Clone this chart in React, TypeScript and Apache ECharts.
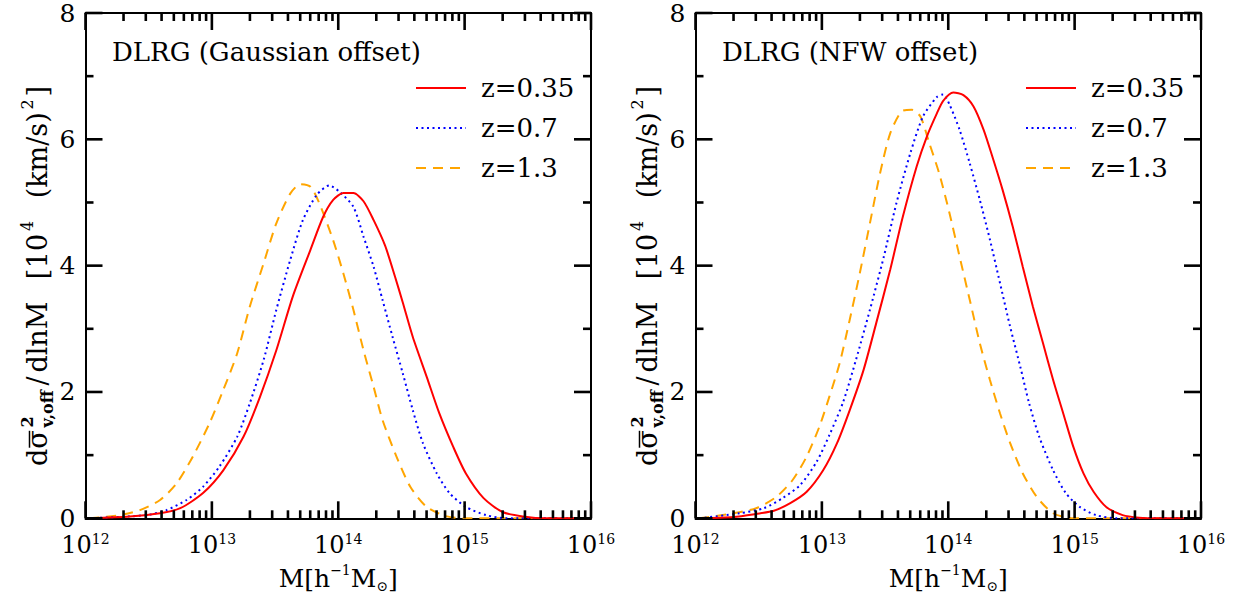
import React, { useEffect, useRef } from 'react';
import * as echarts from 'echarts';

const SERIF = '"DejaVu Serif", serif';

// x values are log10(M / h^-1 Msun)
const NAMES = ['z=0.35', 'z=0.7', 'z=1.3'];
const COLORS = ['#ff0000', '#0000ff', '#ffa500'];
const PANEL_TITLES = ['DLRG (Gaussian offset)', 'DLRG (NFW offset)'];
const X_TICKS = [12, 13, 14, 15, 16];
const Y_TICKS = [0, 2, 4, 6, 8];
const Y_MINOR = [1, 3, 5, 7];
const MINOR_DECADES = [12, 13, 14, 15];
const MINOR_MULTIPLIERS = [2, 3, 4, 5, 6, 7, 8, 9];

// Gaussian offset panel
const G_LOGM_035 = [12.03, 12.35, 12.59, 12.75, 12.93, 13.09, 13.25, 13.38, 13.51, 13.64, 13.78, 13.88, 13.96, 14.04, 14.12, 14.20, 14.28, 14.37, 14.45, 14.51, 14.59, 14.70, 14.80, 14.91, 15.01, 15.15, 15.30, 15.46, 15.65, 16.0];
const G_VAL_035 = [0.0, 0.03, 0.08, 0.16, 0.40, 0.76, 1.29, 1.92, 2.66, 3.51, 4.25, 4.77, 5.04, 5.15, 5.15, 5.02, 4.72, 4.32, 3.82, 3.42, 2.87, 2.24, 1.66, 1.13, 0.71, 0.32, 0.10, 0.03, 0.0, 0.0];
const G_LOGM_07 = [12.03, 12.48, 12.64, 12.80, 12.93, 13.06, 13.20, 13.30, 13.41, 13.51, 13.62, 13.72, 13.83, 13.93, 14.01, 14.12, 14.20, 14.28, 14.35, 14.43, 14.51, 14.59, 14.67, 14.78, 14.88, 15.01, 15.17, 15.33, 16.0];
const G_VAL_07 = [0, 0.05, 0.13, 0.29, 0.50, 0.82, 1.29, 1.82, 2.51, 3.30, 4.09, 4.72, 5.12, 5.27, 5.17, 4.93, 4.46, 3.98, 3.46, 2.87, 2.30, 1.71, 1.19, 0.71, 0.40, 0.18, 0.05, 0.0, 0];
const G_LOGM_13 = [12.03, 12.27, 12.43, 12.59, 12.72, 12.85, 12.98, 13.09, 13.20, 13.30, 13.41, 13.51, 13.62, 13.70, 13.78, 13.85, 13.96, 14.04, 14.12, 14.20, 14.28, 14.35, 14.46, 14.57, 14.70, 14.86, 15.04, 16.0];
const G_VAL_13 = [0, 0.05, 0.13, 0.29, 0.55, 0.98, 1.50, 2.03, 2.61, 3.35, 4.04, 4.67, 5.14, 5.29, 5.25, 4.99, 4.40, 3.88, 3.30, 2.66, 2.08, 1.56, 0.98, 0.50, 0.18, 0.03, 0, 0];

// NFW offset panel
const N_LOGM_035 = [12.03, 12.30, 12.48, 12.62, 12.75, 12.88, 13.01, 13.12, 13.22, 13.33, 13.43, 13.54, 13.64, 13.75, 13.83, 13.91, 13.96, 14.04, 14.12, 14.20, 14.28, 14.35, 14.43, 14.51, 14.59, 14.67, 14.75, 14.83, 14.91, 14.99, 15.07, 15.15, 15.25, 15.38, 15.51, 15.65, 16.0];
const N_VAL_035 = [0, 0.02, 0.07, 0.12, 0.24, 0.42, 0.76, 1.19, 1.71, 2.35, 3.09, 3.93, 4.77, 5.57, 6.04, 6.41, 6.61, 6.74, 6.70, 6.52, 6.15, 5.72, 5.20, 4.62, 3.98, 3.35, 2.77, 2.19, 1.66, 1.13, 0.71, 0.42, 0.18, 0.05, 0.01, 0, 0];
const N_LOGM_07 = [12.03, 12.35, 12.54, 12.69, 12.83, 12.96, 13.06, 13.17, 13.27, 13.38, 13.49, 13.59, 13.70, 13.80, 13.91, 13.96, 14.01, 14.09, 14.17, 14.25, 14.33, 14.41, 14.49, 14.57, 14.64, 14.72, 14.83, 14.93, 15.04, 15.17, 15.33, 16.0];
const N_VAL_07 = [0, 0.08, 0.16, 0.32, 0.53, 0.90, 1.32, 1.85, 2.51, 3.30, 4.14, 4.99, 5.78, 6.36, 6.67, 6.71, 6.55, 6.15, 5.62, 5.04, 4.41, 3.72, 3.03, 2.40, 1.82, 1.29, 0.76, 0.40, 0.18, 0.05, 0, 0];
const N_LOGM_13 = [12.03, 12.30, 12.48, 12.64, 12.77, 12.88, 12.98, 13.06, 13.14, 13.22, 13.30, 13.38, 13.46, 13.54, 13.63, 13.71, 13.78, 13.85, 13.93, 14.01, 14.09, 14.17, 14.25, 14.33, 14.41, 14.49, 14.59, 14.70, 14.83, 14.99, 16.0];
const N_VAL_13 = [0, 0.08, 0.16, 0.34, 0.61, 0.98, 1.45, 1.93, 2.45, 3.14, 3.88, 4.67, 5.46, 6.09, 6.44, 6.47, 6.36, 5.94, 5.45, 4.83, 4.14, 3.46, 2.77, 2.19, 1.66, 1.19, 0.71, 0.34, 0.08, 0, 0];

const PANELS = [
  [[G_LOGM_035, G_VAL_035], [G_LOGM_07, G_VAL_07], [G_LOGM_13, G_VAL_13]],
  [[N_LOGM_035, N_VAL_035], [N_LOGM_07, N_VAL_07], [N_LOGM_13, N_VAL_13]],
];

const GRID_LEFT = [85.5, 695.5];
const GRID_TOP = 13;
const GRID_W = 505.5;
const GRID_H = 505.3;
const MAJOR_LEN = 17;
const MINOR_LEN = 8;

function zip(xs: number[], ys: number[]) {
  return xs.map((x, i) => [x, ys[i]]);
}

function yLabelGroup(cx: number, cy: number) {
  const canvas = document.createElement('canvas');
  const ctx = canvas.getContext('2d')!;
  const measure = (s: string, size: number, weight = 'normal') => {
    ctx.font = `${weight} ${size}px "DejaVu Serif"`;
    return ctx.measureText(s).width;
  };
  const F = 27;
  const S = 16;
  const TARGET = 380;
  const segs: any[] = [
    { t: 'dσ', k: 'm', over: true },
    { t: '', k: 'stack' },
    { t: '/', k: 'm' },
    { t: 'dlnM', k: 'm' },
    { t: '[', k: 'm' },
    { t: '10', k: 'm' },
    { t: '4', k: 'sup' },
    { t: '(km/s)', k: 'm' },
    { t: '2', k: 'sup' },
    { t: ']', k: 'm' },
  ];
  const gapAfter = [0.3, 0.5, 0.4, 2.4, 0.05, 0.3, 2.4, 0.3, 0.3];
  const widths = segs.map((s) => {
    if (s.k === 'm') return measure(s.t, F);
    if (s.k === 'sup') return measure(s.t, S);
    return Math.max(measure('2', S, 'bold'), measure('v,off', S, 'bold'));
  });
  const content = widths.reduce((a, b) => a + b, 0);
  const units = gapAfter.reduce((a, b) => a + b, 0);
  const unit = Math.max(0, (TARGET - content) / units);
  const children: any[] = [];
  const txt = (s: string, x: number, y: number, size: number, weight = 'normal') => {
    children.push({
      type: 'text',
      x,
      y,
      style: { text: s, fontSize: size, fontFamily: SERIF, fontWeight: weight, fill: '#000', align: 'left', verticalAlign: 'middle' },
    });
  };
  const total = content + units * unit;
  let x = -total / 2;
  segs.forEach((s, i) => {
    if (s.k === 'm') {
      txt(s.t, x, 0, F);
      if (s.over) {
        const wd = measure('d', F);
        const ws = measure('σ', F);
        children.push({ type: 'line', shape: { x1: x + wd + 1, y1: -8, x2: x + wd + ws - 0.5, y2: -8 }, style: { stroke: '#000', lineWidth: 1.5 } });
      }
    } else if (s.k === 'sup') {
      txt(s.t, x, -10, S);
    } else {
      txt('2', x, -10, S, 'bold');
      txt('v,off', x, 10, S, 'bold');
    }
    x += widths[i] + (i < gapAfter.length ? gapAfter[i] * unit : 0);
  });
  return { type: 'group', x: cx, y: cy, rotation: Math.PI / 2, children, silent: true };
}

function buildOption() {
  const grids: any[] = [];
  const xAxes: any[] = [];
  const yAxes: any[] = [];
  const series: any[] = [];
  const legends: any[] = [];
  const graphics: any[] = [];

  // tick data: [value, isMajor]
  const xTickData: number[][] = X_TICKS.map((v) => [v, 1]);
  MINOR_DECADES.forEach((d) => MINOR_MULTIPLIERS.forEach((k) => xTickData.push([d + Math.log10(k), 0])));
  const yTickData: number[][] = [...Y_TICKS.map((v) => [v, 1]), ...Y_MINOR.map((v) => [v, 0])];

  const axisLine = () => ({ show: true, onZero: false, lineStyle: { color: '#000000', width: 2 } });
  const tickLine = (x1: number, y1: number, x2: number, y2: number) => ({
    type: 'line',
    shape: { x1, y1, x2, y2 },
    style: { stroke: '#000000', lineWidth: 2.6, opacity: 1 },
  });

  for (let p = 0; p < 2; p++) {
    grids.push({ left: GRID_LEFT[p], top: GRID_TOP, width: GRID_W, height: GRID_H, outerBoundsMode: 'none', containLabel: false });
    const xBase = () => ({
      gridIndex: p,
      type: 'value',
      min: X_TICKS[0],
      max: X_TICKS[X_TICKS.length - 1],
      interval: 1,
      axisLine: axisLine(),
      axisTick: { show: false },
      splitLine: { show: false },
    });
    xAxes.push({
      ...xBase(),
      position: 'bottom',
      axisLabel: {
        show: true,
        margin: 14,
        showMinLabel: true,
        showMaxLabel: true,
        formatter: (v: number) => `{b|10}{s|${v}}`,
        rich: {
          b: { fontSize: 24, fontFamily: SERIF, color: '#000', lineHeight: 26 },
          s: { fontSize: 14, fontFamily: SERIF, color: '#000', lineHeight: 15, verticalAlign: 'top' },
        },
      },
    });
    xAxes.push({ ...xBase(), position: 'top', axisLabel: { show: false } });
    const yBase = () => ({
      gridIndex: p,
      type: 'value',
      min: Y_TICKS[0],
      max: Y_TICKS[Y_TICKS.length - 1],
      interval: 2,
      axisLine: axisLine(),
      axisTick: { show: false },
      minorTick: { show: false },
      splitLine: { show: false },
    });
    yAxes.push({
      ...yBase(),
      position: 'left',
      axisLabel: { show: true, margin: 10, fontSize: 25, lineHeight: 18, fontFamily: SERIF, color: '#000', showMinLabel: true, showMaxLabel: true },
    });
    yAxes.push({ ...yBase(), position: 'right', axisLabel: { show: false } });

    PANELS[p].forEach(([xs, ys], i) => {
      series.push({
        name: NAMES[i],
        type: 'line',
        xAxisIndex: p * 2,
        yAxisIndex: p * 2,
        data: zip(xs, ys),
        symbol: 'none',
        showSymbol: false,
        smooth: 0.25,
        clip: true,
        lineStyle: {
          color: COLORS[i],
          width: 2,
          type: i === 0 ? 'solid' : i === 1 ? [2, 3.5] : [10, 7],
        },
        itemStyle: { color: COLORS[i] },
        z: 3 - i + 2,
      });
    });

    // x-axis ticks (bottom and top, pointing inward)
    series.push({
      type: 'custom',
      xAxisIndex: p * 2,
      yAxisIndex: p * 2,
      silent: true,
      clip: false,
      data: xTickData,
      renderItem: (params: any, api: any) => {
        const len = api.value(1) ? MAJOR_LEN : MINOR_LEN;
        const b = api.coord([api.value(0), Y_TICKS[0]]);
        const t = api.coord([api.value(0), Y_TICKS[Y_TICKS.length - 1]]);
        return {
          type: 'group',
          children: [tickLine(b[0], b[1], b[0], b[1] - len), tickLine(t[0], t[1], t[0], t[1] + len)],
        };
      },
      z: 10,
    });
    // y-axis ticks (left and right, pointing inward)
    series.push({
      type: 'custom',
      xAxisIndex: p * 2,
      yAxisIndex: p * 2,
      silent: true,
      clip: false,
      data: yTickData,
      renderItem: (params: any, api: any) => {
        const len = api.value(1) ? MAJOR_LEN : MINOR_LEN;
        const l = api.coord([X_TICKS[0], api.value(0)]);
        const r = api.coord([X_TICKS[X_TICKS.length - 1], api.value(0)]);
        return {
          type: 'group',
          children: [tickLine(l[0], l[1], l[0] + len, l[1]), tickLine(r[0], r[1], r[0] - len, r[1])],
        };
      },
      z: 10,
    });

    legends.push({
      left: GRID_LEFT[p] + 329.5,
      top: 68,
      orient: 'vertical',
      itemGap: 0,
      itemWidth: 50,
      itemHeight: 14,
      padding: 0,
      selectedMode: false,
      data: NAMES,
      itemStyle: { opacity: 0 },
      textStyle: { fontFamily: SERIF, fontSize: 26, color: '#000', lineHeight: 40, padding: [0, 0, 0, 10] },
    });

    graphics.push({
      type: 'text',
      x: GRID_LEFT[p] + 26.5,
      y: 52,
      style: { text: PANEL_TITLES[p], fontSize: 26, fontFamily: SERIF, fill: '#000', align: 'left', verticalAlign: 'middle' },
      silent: true,
    });
    graphics.push({
      type: 'text',
      x: GRID_LEFT[p] + GRID_W / 2,
      y: 578,
      style: {
        text: '{a|M[h}{s|−1}{a|M}{o|⊙}{a|]}',
        align: 'center',
        verticalAlign: 'middle',
        rich: {
          a: { fontSize: 25, fontFamily: SERIF, fill: '#000', lineHeight: 30 },
          s: { fontSize: 14, fontFamily: SERIF, fill: '#000', lineHeight: 18, verticalAlign: 'top' },
          o: { fontSize: 14, fontFamily: SERIF, fill: '#000', lineHeight: 16, verticalAlign: 'bottom' },
        },
      },
      silent: true,
    });
    graphics.push(yLabelGroup(GRID_LEFT[p] - 48, 276));
  }

  return {
    animation: false,
    backgroundColor: '#fff',
    textStyle: { fontFamily: SERIF },
    grid: grids,
    xAxis: xAxes,
    yAxis: yAxes,
    legend: legends,
    series,
    graphic: graphics,
  };
}

export default function App() {
  const ref = useRef<HTMLDivElement>(null);
  useEffect(() => {
    const chart = echarts.init(ref.current!, null, { renderer: 'svg' });
    chart.setOption(buildOption() as any);
    return () => chart.dispose();
  }, []);
  return <div ref={ref} style={{ position: 'fixed', left: 0, top: 0, width: 1237, height: 600, background: '#fff' }} />;
}
